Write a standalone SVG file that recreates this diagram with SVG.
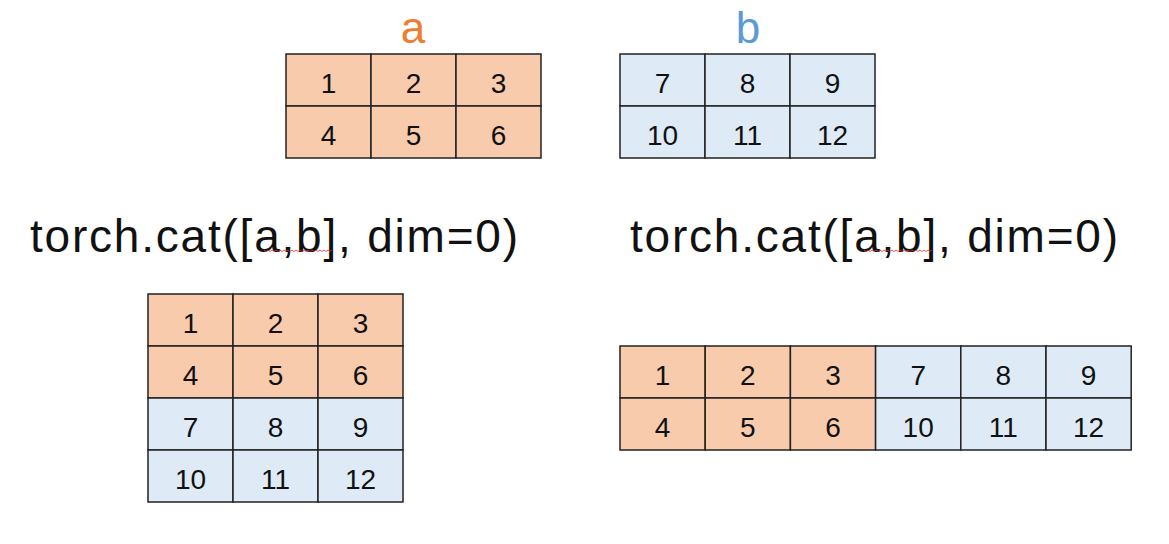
<svg xmlns="http://www.w3.org/2000/svg" width="1169" height="544" viewBox="0 0 1169 544">
<style>
.o{fill:#F8CBAD;stroke:#222;stroke-width:1.5}
.b{fill:#DEEBF7;stroke:#222;stroke-width:1.5}
.n{font-family:"Liberation Sans",Arial,sans-serif;font-size:28px;fill:#111;text-anchor:middle}
.code{font-family:"Liberation Sans",Arial,sans-serif;font-size:46px;fill:#111}
.lbl{font-family:"Liberation Sans",Arial,sans-serif;font-size:44px;text-anchor:middle}
.sq{fill:none;stroke:#e03030;stroke-width:0.8}
</style>
<rect width="1169" height="544" fill="#fff"/>
<g id="tensor-a">
<text class="lbl" x="413" y="43" fill="#ED7D31">a</text>
<rect class="o" x="286" y="54" width="85" height="52"/><rect class="o" x="371" y="54" width="85" height="52"/><rect class="o" x="456" y="54" width="85" height="52"/>
<rect class="o" x="286" y="106" width="85" height="52"/><rect class="o" x="371" y="106" width="85" height="52"/><rect class="o" x="456" y="106" width="85" height="52"/>
<text class="n" x="328.5" y="93">1</text><text class="n" x="413.5" y="93">2</text><text class="n" x="498.5" y="93">3</text>
<text class="n" x="328.5" y="145">4</text><text class="n" x="413.5" y="145">5</text><text class="n" x="498.5" y="145">6</text>
</g>
<g id="tensor-b">
<text class="lbl" x="748" y="43" fill="#5B9BD5">b</text>
<rect class="b" x="620" y="54" width="85" height="52"/><rect class="b" x="705" y="54" width="85" height="52"/><rect class="b" x="790" y="54" width="85" height="52"/>
<rect class="b" x="620" y="106" width="85" height="52"/><rect class="b" x="705" y="106" width="85" height="52"/><rect class="b" x="790" y="106" width="85" height="52"/>
<text class="n" x="662.5" y="93">7</text><text class="n" x="747.5" y="93">8</text><text class="n" x="832.5" y="93">9</text>
<text class="n" x="662.5" y="145">10</text><text class="n" x="747.5" y="145">11</text><text class="n" x="832.5" y="145">12</text>
</g>
<g id="code-left">
<text class="code" x="30" y="252" textLength="488" lengthAdjust="spacing">torch.cat([a,b], dim=0)</text>
<path class="sq" d="M264 250 l2 1.5 l2 -1.5 l2 1.5 l2 -1.5 l2 1.5 l2 -1.5 l2 1.5 l2 -1.5 l2 1.5 l2 -1.5 l2 1.5 l2 -1.5 l2 1.5 l2 -1.5 l2 1.5 l2 -1.5 l2 1.5 l2 -1.5 l2 1.5 l2 -1.5 l2 1.5 l2 -1.5 l2 1.5 l2 -1.5 l2 1.5 l2 -1.5 l2 1.5 l2 -1.5 l2 1.5 l2 -1.5 l2 1.5 l2 -1.5 l2 1.5 l2 -1.5"/>
</g>
<g id="code-right">
<text class="code" x="630" y="252" textLength="488" lengthAdjust="spacing">torch.cat([a,b], dim=0)</text>
<path class="sq" d="M864 250 l2 1.5 l2 -1.5 l2 1.5 l2 -1.5 l2 1.5 l2 -1.5 l2 1.5 l2 -1.5 l2 1.5 l2 -1.5 l2 1.5 l2 -1.5 l2 1.5 l2 -1.5 l2 1.5 l2 -1.5 l2 1.5 l2 -1.5 l2 1.5 l2 -1.5 l2 1.5 l2 -1.5 l2 1.5 l2 -1.5 l2 1.5 l2 -1.5 l2 1.5 l2 -1.5 l2 1.5 l2 -1.5 l2 1.5 l2 -1.5 l2 1.5 l2 -1.5"/>
</g>
<g id="result-dim0">
<rect class="o" x="148" y="294" width="85" height="52"/><rect class="o" x="233" y="294" width="85" height="52"/><rect class="o" x="318" y="294" width="85" height="52"/>
<rect class="o" x="148" y="346" width="85" height="52"/><rect class="o" x="233" y="346" width="85" height="52"/><rect class="o" x="318" y="346" width="85" height="52"/>
<rect class="b" x="148" y="398" width="85" height="52"/><rect class="b" x="233" y="398" width="85" height="52"/><rect class="b" x="318" y="398" width="85" height="52"/>
<rect class="b" x="148" y="450" width="85" height="52"/><rect class="b" x="233" y="450" width="85" height="52"/><rect class="b" x="318" y="450" width="85" height="52"/>
<text class="n" x="190.5" y="333">1</text><text class="n" x="275.5" y="333">2</text><text class="n" x="360.5" y="333">3</text>
<text class="n" x="190.5" y="385">4</text><text class="n" x="275.5" y="385">5</text><text class="n" x="360.5" y="385">6</text>
<text class="n" x="190.5" y="437">7</text><text class="n" x="275.5" y="437">8</text><text class="n" x="360.5" y="437">9</text>
<text class="n" x="190.5" y="489">10</text><text class="n" x="275.5" y="489">11</text><text class="n" x="360.5" y="489">12</text>
</g>
<g id="result-dim1">
<rect class="o" x="620" y="346" width="85.2" height="52"/><rect class="o" x="705.2" y="346" width="85.2" height="52"/><rect class="o" x="790.4" y="346" width="85.2" height="52"/>
<rect class="b" x="875.6" y="346" width="85.2" height="52"/><rect class="b" x="960.8" y="346" width="85.2" height="52"/><rect class="b" x="1046" y="346" width="85.2" height="52"/>
<rect class="o" x="620" y="398" width="85.2" height="52"/><rect class="o" x="705.2" y="398" width="85.2" height="52"/><rect class="o" x="790.4" y="398" width="85.2" height="52"/>
<rect class="b" x="875.6" y="398" width="85.2" height="52"/><rect class="b" x="960.8" y="398" width="85.2" height="52"/><rect class="b" x="1046" y="398" width="85.2" height="52"/>
<text class="n" x="662.6" y="385">1</text><text class="n" x="747.8" y="385">2</text><text class="n" x="833" y="385">3</text>
<text class="n" x="918.2" y="385">7</text><text class="n" x="1003.4" y="385">8</text><text class="n" x="1088.6" y="385">9</text>
<text class="n" x="662.6" y="437">4</text><text class="n" x="747.8" y="437">5</text><text class="n" x="833" y="437">6</text>
<text class="n" x="918.2" y="437">10</text><text class="n" x="1003.4" y="437">11</text><text class="n" x="1088.6" y="437">12</text>
</g>
</svg>
